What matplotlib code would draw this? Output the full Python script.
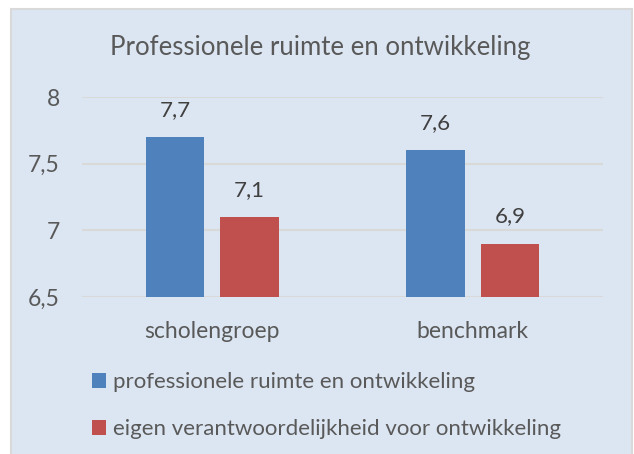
import matplotlib.pyplot as plt
from matplotlib.patches import Rectangle, Patch

# data
categorieen = ['scholengroep', 'benchmark']
ruimte = [7.7, 7.6]
verantwoordelijkheid = [7.1, 6.9]
reeksen = ['professionele ruimte en ontwikkeling',
           'eigen verantwoordelijkheid voor ontwikkeling']
yticks = [6.5, 7, 7.5, 8]

blauw = '#4f81bd'
rood = '#c0504d'
tekst = '#595959'
achtergrond = '#dce6f2'

plt.rcParams['font.family'] = ['Lato', 'DejaVu Sans']

W, H = 634, 454
fig = plt.figure(figsize=(W / 100, H / 100), dpi=100)
fig.patch.set_facecolor('white')

# achtergrondvlak met rand
fig.patches.append(Rectangle((11 / W, -0.02), 621 / W, 1 - 9 / H + 0.02,
                             transform=fig.transFigure, facecolor=achtergrond,
                             edgecolor='#d9d9d9', linewidth=1.5, zorder=-5))

ax = fig.add_axes([82 / W, 1 - 297 / H, 521 / W, 200 / H])
ax.set_facecolor('none')
ax.set_zorder(2)

x = range(len(categorieen))
b = 0.223
off = 0.143
for i in x:
    ax.bar(i - off, ruimte[i], width=b, color=blauw, zorder=3)
    ax.bar(i + off, verantwoordelijkheid[i], width=b, color=rood, zorder=3)
    ax.text(i - off, ruimte[i] + 0.13, f'{ruimte[i]:.1f}'.replace('.', ','),
            ha='center', va='bottom', fontsize=16, color='#404040')
    ax.text(i + off, verantwoordelijkheid[i] + 0.13,
            f'{verantwoordelijkheid[i]:.1f}'.replace('.', ','),
            ha='center', va='bottom', fontsize=16, color='#404040')

ax.set_xlim(-0.5, 1.5)
ax.set_ylim(6.5, 8)
ax.set_yticks(yticks)
ax.set_yticklabels([str(t).replace('.', ',') for t in yticks])
ax.set_xticks(list(x))
ax.set_xticklabels(categorieen)
ax.tick_params(axis='both', length=0, labelsize=16.5, labelcolor=tekst)
ax.tick_params(axis='y', pad=16)
ax.tick_params(axis='x', pad=17)
ax.grid(axis='y', color='#d9d9d9', linewidth=1.5, zorder=0)
for s in ax.spines.values():
    s.set_visible(False)

fig.text(320 / W, 1 - 48 / H, 'Professionele ruimte en ontwikkeling',
         ha='center', va='center', fontsize=18.5, color=tekst)

handles = [Patch(facecolor=blauw), Patch(facecolor=rood)]
fig.legend(handles, reeksen, loc='upper left', bbox_to_anchor=(92 / W, 1 - 372 / H),
           frameon=False, fontsize=16, labelcolor=tekst, handlelength=0.65,
           handleheight=0.65, handletextpad=0.3, labelspacing=1.22,
           borderaxespad=0, borderpad=0)

fig.savefig('out.png', dpi=100, facecolor='white')
